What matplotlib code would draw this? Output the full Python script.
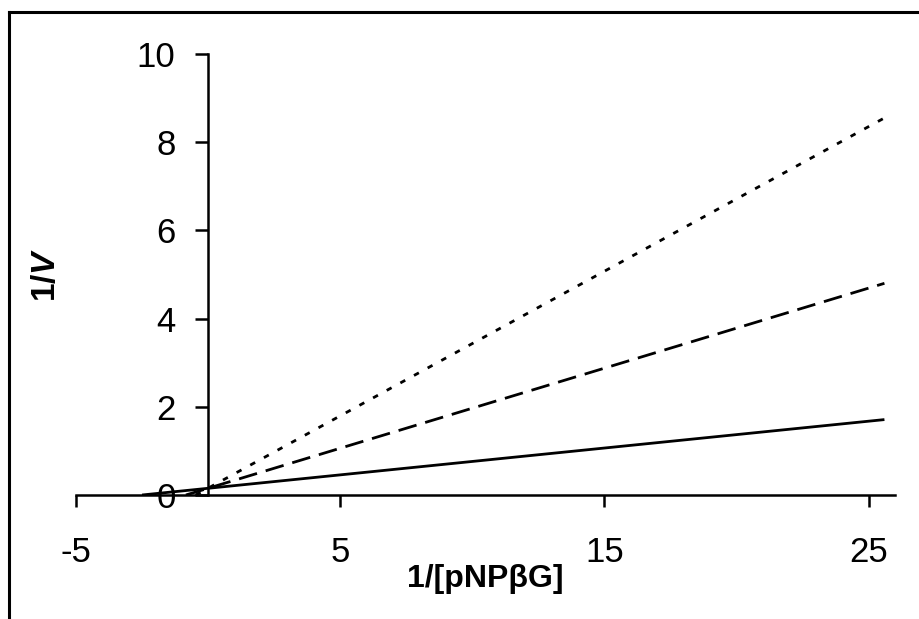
import matplotlib
matplotlib.use("Agg")
import matplotlib.pyplot as plt
from matplotlib.lines import Line2D

plt.rcParams['font.family'] = ['Liberation Sans', 'DejaVu Sans']
plt.rcParams['mathtext.fontset'] = 'custom'
plt.rcParams['mathtext.rm'] = 'Liberation Sans:bold'
plt.rcParams['mathtext.bf'] = 'Liberation Sans:bold'
plt.rcParams['mathtext.it'] = 'Liberation Sans:italic:bold'
plt.rcParams['lines.scale_dashes'] = False

# Data: each line given by its two end points (x-intercept and right end)
solid_x = [-2.5, 25.6]
solid_y = [0.0, 1.71]
dashed_x = [-0.84, 25.6]
dashed_y = [0.0, 4.80]
dotted_x = [-0.47, 25.6]
dotted_y = [0.0, 8.55]

xticks = [-5, 5, 15, 25]
yticks = [0, 2, 4, 6, 8, 10]

W, H = 920, 619
fig = plt.figure(figsize=(W / 100, H / 100), dpi=100)
ax = fig.add_axes([76 / W, 1 - 495 / H, (895 - 76) / W, (495 - 54) / H])

lw = 2.0
ax.plot(solid_x, solid_y, color='black', lw=lw, solid_capstyle='butt')
ax.plot(dashed_x, dashed_y, color='black', lw=lw, dashes=(13.5, 6.5), dash_capstyle='butt')
ax.plot(dotted_x, dotted_y, color='black', lw=lw, dashes=(4, 7.2), dash_capstyle='butt')

ax.set_xlim(-5, 26)
ax.set_ylim(0, 10)
ax.spines['left'].set_position(('data', 0))
ax.spines['bottom'].set_position(('data', 0))
ax.spines['right'].set_visible(False)
ax.spines['top'].set_visible(False)
for s in ('left', 'bottom'):
    ax.spines[s].set_linewidth(1.8)
ax.set_xticks(xticks)
ax.set_yticks(yticks)
ax.set_xticklabels([str(t) for t in xticks])
ax.set_yticklabels([str(t) for t in yticks])
ax.tick_params(axis='x', direction='out', length=8.6, width=1.8, labelsize=25, pad=21)
ax.tick_params(axis='y', direction='out', length=9.4, width=1.8, labelsize=25, pad=14)
ax.patch.set_visible(False)

fig.text(485 / W, 1 - 579 / H, '1/[pNPβG]', ha='center', va='center',
         fontsize=23, fontweight='bold')
fig.text(47 / W, 1 - 275 / H, r'$\mathbf{1/}\mathit{V}$', ha='center', va='center',
         rotation=90, fontsize=24)

# outer frame (left and top edges visible)
fig.add_artist(Line2D([9 / W, 9 / W], [0, 1 - 12 / H], transform=fig.transFigure,
                      color='black', lw=2.2))
fig.add_artist(Line2D([9 / W, 1], [1 - 12 / H, 1 - 12 / H], transform=fig.transFigure,
                      color='black', lw=2.2, solid_capstyle='projecting'))

fig.savefig('out.png', dpi=100)
